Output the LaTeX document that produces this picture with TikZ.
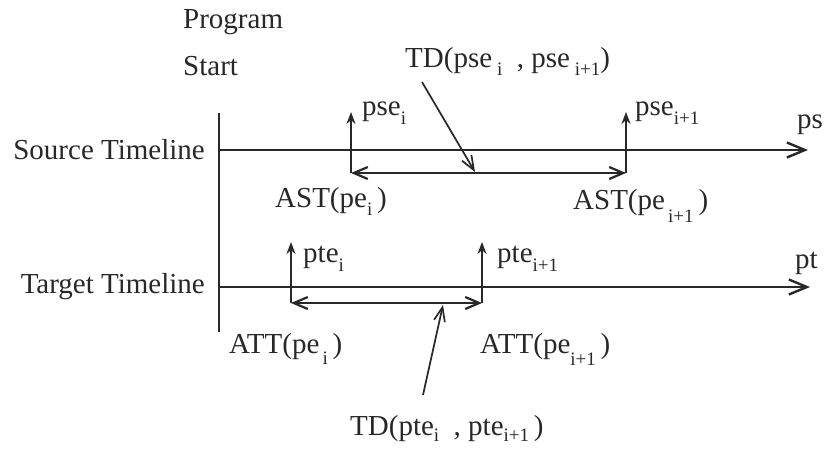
\documentclass[tikz,border=0pt]{standalone}
\usepackage{fontspec}
\setmainfont{Liberation Serif}
\usetikzlibrary{arrows.meta}
\definecolor{ink}{RGB}{40,40,40}
\newcommand{\lsub}[2][8pt]{\raisebox{-#1}{\fontsize{19}{19}\selectfont #2}}
\begin{document}
\begin{tikzpicture}[x=1pt,y=-1pt,
  lbl/.style={anchor=base west,inner sep=0pt,text=ink,font=\fontsize{29}{31}\selectfont},
  mainline/.style={draw=ink,line width=2.8pt,-{Straight Barb[length=18pt,width=15pt,line width=2.4pt]}},
  tick/.style={draw=ink,line width=2pt,-{Stealth[length=12pt,width=9pt]}},
  span/.style={draw=ink,line width=2.6pt,{Straight Barb[length=14pt,width=12pt,line width=2.2pt]}-{Straight Barb[length=14pt,width=12pt,line width=2.2pt]}},
  pointer/.style={draw=ink,line width=1.7pt,-{Straight Barb[length=14pt,width=11pt,line width=1.7pt]}}]
\useasboundingbox (0,0) rectangle (830,450);
% coordinates
\coordinate (vtop) at (219,113);
\coordinate (vbot) at (219,332);
\coordinate (s0) at (219,150);
\coordinate (s1) at (808,150);
\coordinate (t0) at (219,287);
\coordinate (t1) at (810,287);
\coordinate (psA) at (351,173);
\coordinate (psAt) at (351,112);
\coordinate (psB) at (626,173);
\coordinate (psBt) at (626,112);
\coordinate (ptA) at (291,303);
\coordinate (ptAt) at (291,242);
\coordinate (ptB) at (482,303);
\coordinate (ptBt) at (482,242);
\coordinate (tdsA) at (422,82);
\coordinate (tdsB) at (475,172);
\coordinate (tdtA) at (423,395);
\coordinate (tdtB) at (443,305);
% texts
\node[lbl] (prog) at (183,28) {Program};
\node[lbl] (start) at (183,75) {Start};
\node[lbl,anchor=base east] (src) at (205,159) {Source Timeline};
\node[lbl,anchor=base east] (tgt) at (205,293) {Target Timeline};
\node[lbl] (tds) at (405,67) {TD(pse\,\lsub{i}\ \ , pse\,\lsub{i+1})};
\node[lbl] (pse1) at (362,115) {pse\lsub[9pt]{i}};
\node[lbl] (pse2) at (635,115) {pse\lsub[9pt]{i+1}};
\node[lbl] (ps) at (797,128) {ps};
\node[lbl] (ast1) at (275,207) {AST(pe\lsub{i}\,)};
\node[lbl] (ast2) at (573,209) {AST(pe\lsub[13pt]{\,i+1}\,)};
\node[lbl] (pte1) at (303,262) {pte\lsub[9pt]{i}};
\node[lbl] (pte2) at (497,262) {pte\lsub[9pt]{i+1}};
\node[lbl] (pt) at (795,268) {pt};
\node[lbl] (att1) at (229,353) {ATT(pe\lsub[11pt]{\,i}\,)};
\node[lbl] (att2) at (480,353) {ATT(pe\lsub[12pt]{i+1}\,)};
\node[lbl] (tdt) at (350,435) {TD(pte\lsub[6pt]{i}\ \ , pte\lsub[6pt]{i+1}\,)};
% lines
\draw[draw=ink,line width=2.6pt] (vtop) -- (vbot);
\draw[mainline] (s0) -- (s1);
\draw[mainline] (t0) -- (t1);
\draw[tick] (psA) -- (psAt);
\draw[tick] (psB) -- (psBt);
\draw[span] (psA) -- (psB);
\draw[pointer] (tdsA) -- (tdsB);
\draw[tick] (ptA) -- (ptAt);
\draw[tick] (ptB) -- (ptBt);
\draw[span] (ptA) -- (ptB);
\draw[pointer] (tdtA) -- (tdtB);
\end{tikzpicture}
\end{document}
